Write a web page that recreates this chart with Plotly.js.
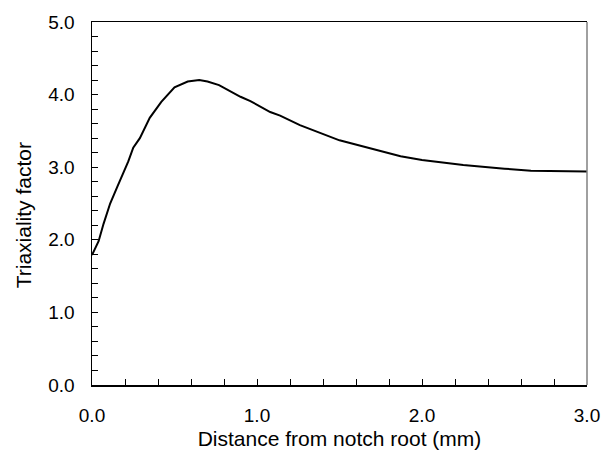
<!DOCTYPE html>
<html>
<head>
<meta charset="utf-8">
<script src="https://cdn.plot.ly/plotly-3.0.1.min.js"></script>
<style>html,body{margin:0;padding:0;background:#fff;}#chart{width:603px;height:452px;}</style>
</head>
<body>
<div id="chart"></div>
<script>
const distance = [0, 0.04, 0.07, 0.11, 0.155, 0.22, 0.25, 0.29, 0.35, 0.42, 0.50, 0.54, 0.58, 0.65, 0.70, 0.77, 0.82, 0.90, 0.96, 1.08, 1.14, 1.26, 1.50, 1.75, 1.87, 2.00, 2.25, 2.50, 2.66, 3.0];
const triaxiality = [1.79, 1.98, 2.22, 2.50, 2.74, 3.08, 3.27, 3.40, 3.68, 3.90, 4.10, 4.14, 4.18, 4.20, 4.18, 4.13, 4.07, 3.97, 3.91, 3.76, 3.71, 3.58, 3.37, 3.22, 3.15, 3.10, 3.03, 2.98, 2.95, 2.94];
const xTitle = 'Distance from notch root (mm)';
const yTitle = 'Triaxiality factor';

const fontFam = 'Arial, "Liberation Sans", sans-serif';
const trace = {
  x: distance, y: triaxiality, type: 'scatter', mode: 'lines',
  line: {color: '#000000', width: 2}, hoverinfo: 'skip'
};
const axisCommon = {
  showgrid: false, zeroline: false, showline: true, linecolor: '#000000', linewidth: 1.5,
  ticks: 'inside', ticklen: 6, tickwidth: 1, tickcolor: '#000000',
  tickformat: '.1f', dtick: 1, tick0: 0,
  tickfont: {family: fontFam, size: 19, color: '#000000'},
  minor: {dtick: 0.2, ticks: 'inside', ticklen: 6, tickwidth: 1, tickcolor: '#000000', showgrid: false},
  fixedrange: true
};
const layout = {
  width: 603, height: 452,
  margin: {l: 92, r: 16, t: 22, b: 67},
  paper_bgcolor: '#ffffff', plot_bgcolor: '#ffffff',
  showlegend: false,
  xaxis: Object.assign({}, axisCommon, {
    range: [0, 3], mirror: true, ticklabelstandoff: 13,
    title: {text: xTitle, font: {family: fontFam, size: 21, color: '#000000'}, standoff: 6}
  }),
  yaxis: Object.assign({}, axisCommon, {
    range: [0, 5], ticklabelstandoff: 12
  }),
  annotations: [{
    text: yTitle, xref: 'paper', yref: 'paper', x: -0.139, y: 0.468,
    xanchor: 'center', yanchor: 'middle', textangle: -90, showarrow: false,
    font: {family: fontFam, size: 21, color: '#000000'}
  }],
  shapes: [{type: 'line', xref: 'paper', yref: 'paper', x0: 1, x1: 1, y0: 0, y1: 1,
            line: {color: '#808080', width: 1.5}}]
};
Plotly.newPlot('chart', [trace], layout, {displayModeBar: false, staticPlot: true});
</script>
</body>
</html>
